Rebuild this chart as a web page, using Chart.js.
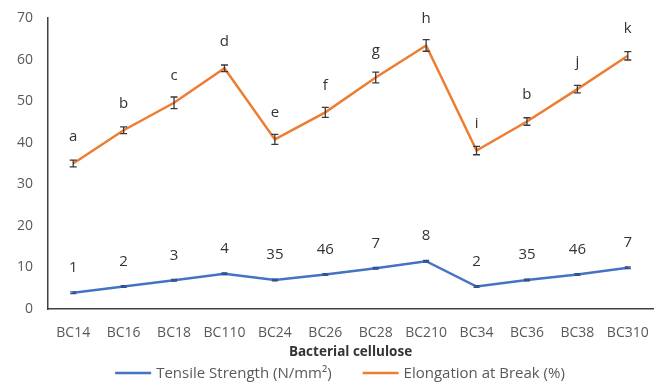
<!DOCTYPE html>
<html>
<head>
<meta charset="utf-8">
<script src="https://cdn.jsdelivr.net/npm/chart.js@4.4.1/dist/chart.umd.min.js"></script>
<style>
  html, body { margin: 0; padding: 0; background: #ffffff; }
  #wrap { width: 659px; height: 390px; position: relative; }
</style>
</head>
<body>
<div id="wrap"><canvas id="chart"></canvas></div>
<script>
// Samples of bacterial cellulose
const categories = ['BC14', 'BC16', 'BC18', 'BC110', 'BC24', 'BC26', 'BC28', 'BC210', 'BC34', 'BC36', 'BC38', 'BC310'];

// Tensile strength (N/mm²) with standard deviation and group letters
const tensile = [3.9, 5.4, 6.9, 8.5, 7.0, 8.3, 9.8, 11.5, 5.4, 7.0, 8.3, 9.9];
const tensileErr = [0.2, 0.2, 0.2, 0.2, 0.2, 0.2, 0.2, 0.2, 0.2, 0.2, 0.2, 0.2];
const tensileLabels = ['1', '2', '3', '4', '35', '46', '7', '8', '2', '35', '46', '7'];

// Elongation at break (%) with standard deviation and group letters
const elongation = [35.0, 43.0, 49.6, 57.9, 40.8, 47.3, 55.7, 63.4, 38.1, 45.1, 52.9, 60.9];
const elongationErr = [0.8, 0.8, 1.4, 0.8, 1.2, 1.2, 1.3, 1.4, 1.0, 0.9, 0.9, 1.0];
const elongationLabels = ['a', 'b', 'c', 'd', 'e', 'f', 'g', 'h', 'i', 'b', 'j', 'k'];

const yTicks = [0, 10, 20, 30, 40, 50, 60, 70];

const FONT = "'Open Sans', 'Noto Sans', sans-serif";
const BLUE = '#4472C4';
const ORANGE = '#ED7D31';

// Error bars drawn through the value scale
const errorBars = {
  id: 'errorBars',
  afterDatasetsDraw(chart) {
    const ctx = chart.ctx;
    const y = chart.scales.y;
    chart.data.datasets.forEach((ds, di) => {
      const meta = chart.getDatasetMeta(di);
      const errs = ds.errors;
      ctx.save();
      ctx.strokeStyle = ds.errorColor;
      ctx.lineWidth = 1.3;
      meta.data.forEach((pt, i) => {
        const v = ds.data[i], e = errs[i];
        const top = y.getPixelForValue(v + e);
        const bot = y.getPixelForValue(v - e);
        const half = ds.capHalf;
        ctx.beginPath();
        ctx.moveTo(pt.x, top); ctx.lineTo(pt.x, bot);
        ctx.moveTo(pt.x - half, top); ctx.lineTo(pt.x + half, top);
        ctx.moveTo(pt.x - half, bot); ctx.lineTo(pt.x + half, bot);
        ctx.stroke();
      });
      ctx.restore();
    });
  }
};

// Group letters above each point
const groupLabels = {
  id: 'groupLabels',
  afterDatasetsDraw(chart) {
    const ctx = chart.ctx;
    ctx.save();
    ctx.font = '15px ' + FONT;
    ctx.fillStyle = '#333333';
    ctx.textAlign = 'center';
    ctx.textBaseline = 'middle';
    chart.data.datasets.forEach((ds, di) => {
      const meta = chart.getDatasetMeta(di);
      meta.data.forEach((pt, i) => {
        ctx.fillText(ds.groups[i], pt.x, pt.y - ds.labelGap);
      });
    });
    ctx.restore();
  }
};

// Axis title and legend under the plot
const footer = {
  id: 'footer',
  afterDraw(chart) {
    const ctx = chart.ctx;
    const area = chart.chartArea;
    ctx.save();
    ctx.fillStyle = '#333333';
    ctx.textBaseline = 'middle';
    ctx.textAlign = 'center';
    ctx.font = 'bold 13.5px ' + FONT;
    ctx.fillText('Bacterial cellulose', (area.left + area.right) / 2, 352);

    ctx.font = '15px ' + FONT;
    ctx.fillStyle = '#595959';
    ctx.textAlign = 'left';
    const items = chart.data.datasets.map(ds => ({ text: ds.label, color: ds.borderColor }));
    const lineLen = 36, gap = 5, spacing = 31;
    const widths = items.map(it => ctx.measureText(it.text).width);
    const total = widths.reduce((s, w) => s + lineLen + gap + w, 0) + spacing * (items.length - 1);
    let x = 340 - total / 2;
    const ly = 373;
    items.forEach((it, i) => {
      ctx.strokeStyle = it.color;
      ctx.lineWidth = 2.5;
      ctx.beginPath();
      ctx.moveTo(x, ly); ctx.lineTo(x + lineLen, ly);
      ctx.stroke();
      x += lineLen + gap;
      ctx.fillText(it.text, x, ly + 1);
      x += widths[i] + spacing;
    });
    ctx.restore();
  }
};

new Chart(document.getElementById('chart'), {
  type: 'line',
  data: {
    labels: categories,
    datasets: [
      {
        label: 'Tensile Strength (N/mm²)',
        data: tensile,
        errors: tensileErr,
        groups: tensileLabels,
        labelGap: 25,
        capHalf: 3,
        errorColor: '#2f4f8f',
        borderColor: BLUE,
        backgroundColor: BLUE,
        borderWidth: 2.5,
        pointRadius: 0,
        tension: 0
      },
      {
        label: 'Elongation at Break (%)',
        data: elongation,
        errors: elongationErr,
        groups: elongationLabels,
        labelGap: 27,
        capHalf: 3.5,
        errorColor: '#3a3a3a',
        borderColor: ORANGE,
        backgroundColor: ORANGE,
        borderWidth: 2.5,
        pointRadius: 0,
        tension: 0
      }
    ]
  },
  options: {
    responsive: true,
    maintainAspectRatio: false,
    animation: false,
    devicePixelRatio: 1,
    layout: { padding: { top: 18, right: 6, left: 0, bottom: 0 } },
    plugins: {
      legend: { display: false },
      tooltip: { enabled: false }
    },
    scales: {
      x: {
        type: 'category',
        offset: true,
        // tick marks are hidden; their length only spaces the labels from the axis
        grid: { display: false, drawTicks: true, tickLength: 16 },
        border: { display: true, color: '#404040', width: 1.5 },
        ticks: {
          color: '#595959',
          font: { family: FONT, size: 14 },
          padding: 0,
          maxRotation: 0,
          autoSkip: false
        },
        afterFit(scale) { scale.height = 81; }
      },
      y: {
        min: 0,
        max: 70,
        grid: { display: false, drawTicks: true, tickLength: 15 },
        border: { display: true, color: '#404040', width: 1.5 },
        afterBuildTicks(scale) { scale.ticks = yTicks.map(v => ({ value: v })); },
        ticks: {
          color: '#595959',
          font: { family: FONT, size: 14 },
          padding: 0
        },
        afterFit(scale) { scale.width = 48; }
      }
    }
  },
  plugins: [errorBars, groupLabels, footer]
});
</script>
</body>
</html>
